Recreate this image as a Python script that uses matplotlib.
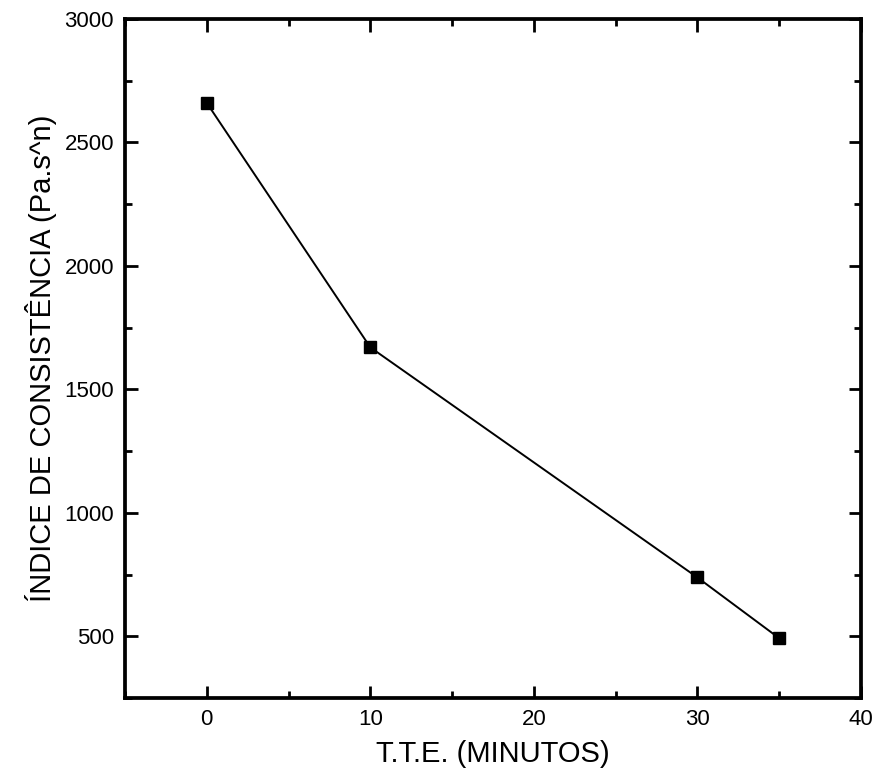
import matplotlib
matplotlib.use("Agg")
import matplotlib.pyplot as plt
from matplotlib.ticker import MultipleLocator

plt.rcParams['font.family'] = ['Liberation Sans', 'DejaVu Sans']

# data
tte_min = [0, 10, 30, 35]
consistencia = [2660, 1670, 738, 492]

fig = plt.figure(figsize=(8.78, 7.79), dpi=100)
ax = fig.add_axes([0.1424, 0.104, 0.8382, 0.8716])

ax.plot(tte_min, consistencia, color='black', linewidth=1.4,
        marker='s', markersize=9, markerfacecolor='black', markeredgecolor='black')

ax.set_xlim(-5, 40)
ax.set_ylim(250, 3000)
ax.xaxis.set_major_locator(MultipleLocator(10))
ax.xaxis.set_minor_locator(MultipleLocator(5))
ax.yaxis.set_major_locator(MultipleLocator(500))
ax.yaxis.set_minor_locator(MultipleLocator(250))

ax.tick_params(which='both', direction='in', top=True, right=True, width=2, colors='black')
ax.tick_params(which='major', length=9, labelsize=16, pad=8)
ax.tick_params(which='minor', length=5)
ax.set_yticks([500, 1000, 1500, 2000, 2500, 3000])

for s in ax.spines.values():
    s.set_linewidth(2.7)

ax.set_xlabel("T.T.E. (MINUTOS)", fontsize=21, labelpad=7)
ax.set_ylabel("ÍNDICE DE CONSISTÊNCIA (Pa.s^n)", fontsize=21, labelpad=5)

plt.savefig("out.png", dpi=100)
